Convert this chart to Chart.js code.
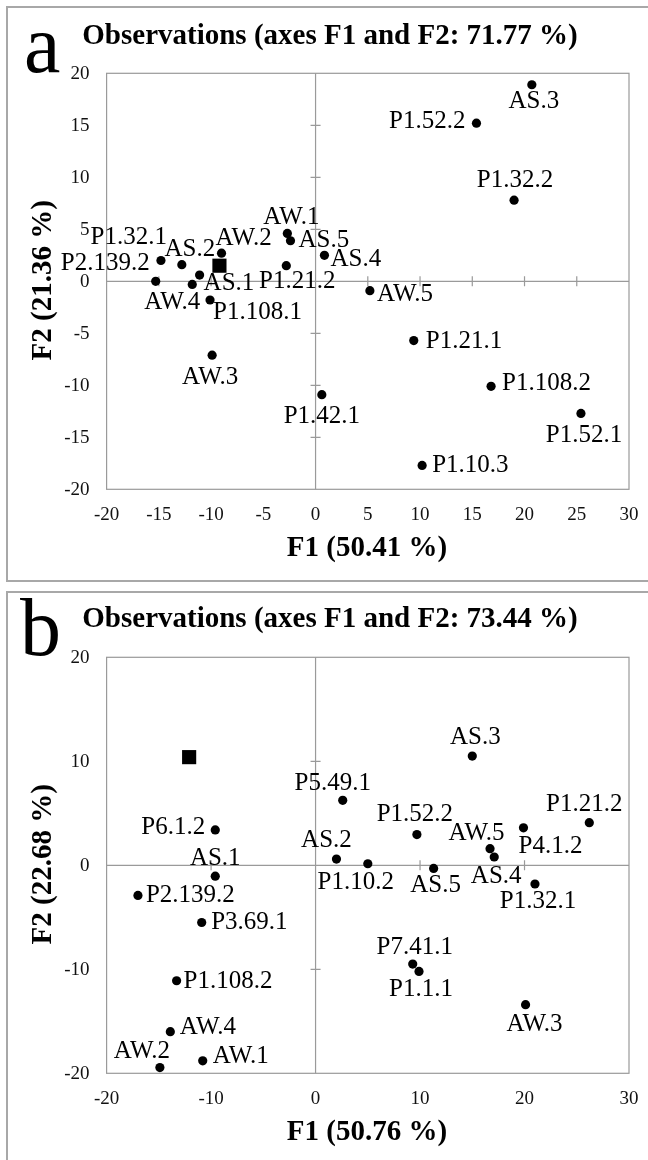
<!DOCTYPE html>
<html>
<head>
<meta charset="utf-8">
<script src="https://cdn.jsdelivr.net/npm/chart.js@4.4.1/dist/chart.umd.min.js"></script>
<style>
  html, body { margin: 0; padding: 0; background: #ffffff; }
  body { width: 648px; height: 1160px; position: relative; overflow: hidden; }
  canvas { position: absolute; left: 0; }
  #chartA { top: 0; }
  #chartB { top: 584px; }
</style>
</head>
<body>
<canvas id="chartA" width="648" height="584"></canvas>
<canvas id="chartB" width="648" height="576"></canvas>
<script>
// ---------- panel a data ----------
const A_LABELS = ["AS.3", "P1.52.2", "P1.32.2", "AW.1", "AS.5", "AS.4", "P1.21.2", "AW.2", "AS.2", "P1.32.1", "P2.139.2",
                  "AS.1", "AW.4", "P1.108.1", "AW.5", "P1.21.1", "AW.3", "P1.108.2", "P1.42.1", "P1.52.1", "P1.10.3"];
const A_F1 = [20.7, 15.4, 19.0, -2.7, -2.4, 0.85, -2.8, -9.0, -12.8, -14.8, -15.3,
              -11.1, -11.8, -10.1, 5.2, 9.4, -9.9, 16.8, 0.6, 25.4, 10.2];
const A_F2 = [18.9, 15.2, 7.8, 4.6, 3.9, 2.5, 1.5, 2.7, 1.6, 2.0, 0.0,
              0.6, -0.3, -1.8, -0.9, -5.7, -7.1, -10.1, -10.9, -12.7, -17.7];
const A_SQUARE_F1 = [-9.2];
const A_SQUARE_F2 = [1.5];
const A_TICKS_X = [-20, -15, -10, -5, 0, 5, 10, 15, 20, 25, 30];
const A_TICKS_Y = [-20, -15, -10, -5, 0, 5, 10, 15, 20];

// ---------- panel b data ----------
const B_LABELS = ["AS.3", "P5.49.1", "P1.21.2", "P4.1.2", "P1.52.2", "P6.1.2", "AS.2", "P1.10.2", "AS.5", "AW.5", "AS.4",
                  "P1.32.1", "AS.1", "P2.139.2", "P3.69.1", "P7.41.1", "P1.1.1", "P1.108.2", "AW.3", "AW.4", "AW.1", "AW.2"];
const B_F1 = [15.0, 2.6, 26.2, 19.9, 9.7, -9.6, 2.0, 5.0, 11.3, 16.7, 17.1,
              21.0, -9.6, -17.0, -10.9, 9.3, 9.9, -13.3, 20.1, -13.9, -10.8, -14.9];
const B_F2 = [10.5, 6.25, 4.1, 3.6, 2.95, 3.4, 0.6, 0.15, -0.3, 1.6, 0.8,
              -1.8, -1.05, -2.9, -5.5, -9.5, -10.2, -11.1, -13.4, -16.0, -18.8, -19.45];
const B_SQUARE_F1 = [-12.1];
const B_SQUARE_F2 = [10.4];
const B_TICKS_X = [-20, -10, 0, 10, 20, 30];
const B_TICKS_Y = [-20, -10, 0, 10, 20];

// label placement (style only): [align, dx, dy] relative to the point
const A_LABEL_POS = [
  ["center", 2, 17], ["right", -11, -2], ["center", 1, -19.5], ["center", 4, -16], ["left", 8, 0],
  ["left", 6, 4], ["center", 11, 16], ["left", -6, -15], ["center", 8, -15.5], ["right", 6, -23],
  ["right", -6, -18], ["left", 4, 8.5], ["right", 8, 18], ["left", 3, 12.5], ["left", 7, 4],
  ["left", 12, 1], ["center", -2, 22], ["left", 11, -2.5], ["center", 0, 22], ["center", 3, 22],
  ["left", 10, 0]
];
const B_LABEL_POS = [
  ["center", 3, -18.5], ["center", -10, -17], ["center", -5, -18], ["left", -5, 19], ["center", -2, -20],
  ["right", -10, -3], ["center", -10, -19], ["center", -12, 19], ["center", 2, 17], ["center", -13.5, -15],
  ["center", 2, 19], ["center", 3, 17], ["center", 0, -18], ["left", 8, 0], ["left", 9.5, 0],
  ["center", 2, -17], ["center", 2, 18], ["left", 7, 1], ["center", 9, 20], ["left", 9.5, -4],
  ["left", 10, -4], ["center", -18, -16]
];

const SERIF = "'Liberation Serif', 'Times New Roman', serif";
const GREY = "#9a9a9a";
const PANEL_GREY = "#a8a8a8";

// draws frame, zero axes, ticks, titles and point labels
const panelDecor = {
  id: "panelDecor",
  beforeDatasetsDraw(chart, args, o) {
    const ctx = chart.ctx;
    const { left, right, top, bottom } = chart.chartArea;
    const sx = chart.scales.x, sy = chart.scales.y;
    const x0 = sx.getPixelForValue(0), y0 = sy.getPixelForValue(0);

    ctx.save();
    // outer panel box (right edge runs off the page)
    ctx.strokeStyle = PANEL_GREY;
    ctx.lineWidth = 2;
    ctx.strokeRect(7, o.boxTop, 800, o.boxHeight);

    // plot frame
    ctx.strokeStyle = GREY;
    ctx.lineWidth = 1.2;
    ctx.strokeRect(left, top, right - left, bottom - top);

    // zero axes
    ctx.beginPath();
    ctx.moveTo(x0, top); ctx.lineTo(x0, bottom);
    ctx.moveTo(left, y0); ctx.lineTo(right, y0);
    // small tick crosses on the zero axes
    o.ticksX.forEach(v => {
      if (v === 0 || v === o.ticksX[0] || v === o.ticksX[o.ticksX.length - 1]) return;
      const px = sx.getPixelForValue(v);
      ctx.moveTo(px, y0 - 5); ctx.lineTo(px, y0 + 5);
    });
    o.ticksY.forEach(v => {
      if (v === 0 || v === o.ticksY[0] || v === o.ticksY[o.ticksY.length - 1]) return;
      const py = sy.getPixelForValue(v);
      ctx.moveTo(x0 - 5, py); ctx.lineTo(x0 + 5, py);
    });
    ctx.stroke();

    // tick labels
    ctx.fillStyle = "#111";
    ctx.font = "19px " + SERIF;
    ctx.textBaseline = "middle";
    ctx.textAlign = "center";
    o.ticksX.forEach(v => ctx.fillText(String(v), sx.getPixelForValue(v), bottom + 26));
    ctx.textAlign = "right";
    o.ticksY.forEach(v => ctx.fillText(String(v), left - 17, sy.getPixelForValue(v) + 1));

    // panel letter
    ctx.fillStyle = "#000";
    ctx.textAlign = "left";
    ctx.textBaseline = "alphabetic";
    ctx.font = "82px " + SERIF;
    ctx.fillText(o.letter, o.letterX, o.letterY);

    // title and axis titles
    ctx.font = "bold 29px " + SERIF;
    ctx.textAlign = "center";
    ctx.textBaseline = "middle";
    ctx.fillText(o.title, 330, o.titleY);
    ctx.fillText(o.xTitle, 367, bottom + 59);
    ctx.translate(43.5, (top + bottom) / 2 - 1);
    ctx.rotate(-Math.PI / 2);
    ctx.fillText(o.yTitle, 0, 0);
    ctx.restore();
  },
  afterDatasetsDraw(chart, args, o) {
    const ctx = chart.ctx;
    const meta = chart.getDatasetMeta(0);
    ctx.save();
    ctx.fillStyle = "#000";
    ctx.font = "25px " + SERIF;
    ctx.textBaseline = "middle";
    meta.data.forEach((pt, i) => {
      const [align, dx, dy] = o.labelPos[i];
      ctx.textAlign = align;
      ctx.fillText(o.labels[i], pt.x + dx, pt.y + dy);
    });
    ctx.restore();
  }
};

function makePanel(id, f1, f2, sqX, sqY, decor, padBottom) {
  return new Chart(document.getElementById(id), {
    type: "scatter",
    data: {
      datasets: [
        {
          data: f1.map((x, i) => ({ x: x, y: f2[i] })),
          backgroundColor: "#000",
          borderColor: "#000",
          borderWidth: 0,
          pointRadius: 4.6,
          pointHoverRadius: 4.6,
          clip: false
        },
        {
          data: sqX.map((x, i) => ({ x: x, y: sqY[i] })),
          pointStyle: "rect",
          backgroundColor: "#000",
          borderColor: "#000",
          borderWidth: 0,
          pointRadius: 10,
          pointHoverRadius: 10,
          clip: false
        }
      ]
    },
    options: {
      responsive: false,
      devicePixelRatio: 1,
      animation: false,
      events: [],
      layout: { padding: { left: 106.6, right: 19, top: 73.3, bottom: padBottom } },
      scales: {
        x: { type: "linear", min: -20, max: 30, display: false },
        y: { type: "linear", min: -20, max: 20, display: false }
      },
      plugins: {
        legend: { display: false },
        tooltip: { enabled: false },
        panelDecor: decor
      }
    },
    plugins: [panelDecor]
  });
}

document.addEventListener("DOMContentLoaded", () => {
  makePanel("chartA", A_F1, A_F2, A_SQUARE_F1, A_SQUARE_F2, {
    letter: "a", letterX: 24, letterY: 72,
    title: "Observations (axes F1 and F2: 71.77 %)", titleY: 37,
    xTitle: "F1 (50.41 %)", yTitle: "F2 (21.36 %)",
    ticksX: A_TICKS_X, ticksY: A_TICKS_Y,
    labels: A_LABELS, labelPos: A_LABEL_POS,
    boxTop: 7, boxHeight: 574
  }, 584 - 489.3);

  makePanel("chartB", B_F1, B_F2, B_SQUARE_F1, B_SQUARE_F2, {
    letter: "b", letterX: 20, letterY: 71,
    title: "Observations (axes F1 and F2: 73.44 %)", titleY: 36,
    xTitle: "F1 (50.76 %)", yTitle: "F2 (22.68 %)",
    ticksX: B_TICKS_X, ticksY: B_TICKS_Y,
    labels: B_LABELS, labelPos: B_LABEL_POS,
    boxTop: 8, boxHeight: 800
  }, 576 - 489.3);
});
</script>
</body>
</html>
